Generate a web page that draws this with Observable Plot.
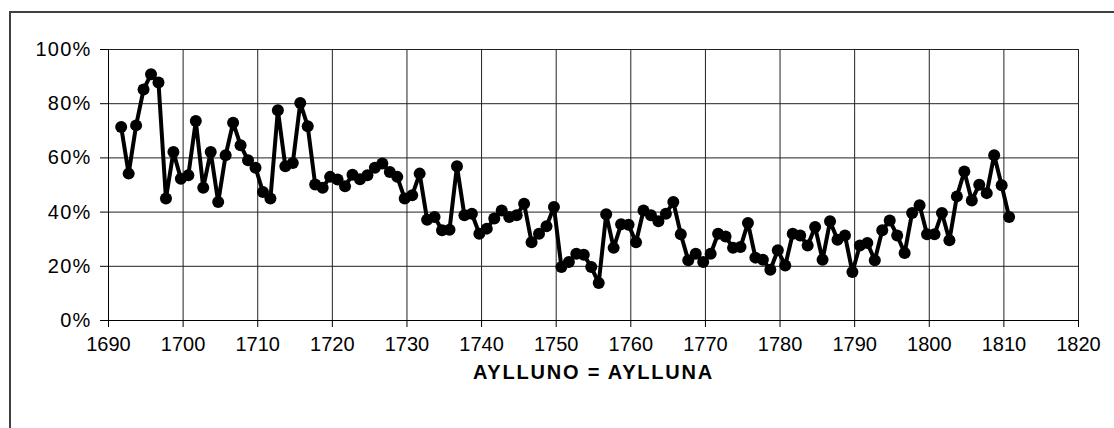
<!DOCTYPE html>
<html>
<head>
<meta charset="utf-8">
<script src="https://cdn.jsdelivr.net/npm/d3@7"></script>
<script src="https://cdn.jsdelivr.net/npm/@observablehq/plot@0.6"></script>
<style>
  html, body { margin: 0; padding: 0; background: #fff; overflow: hidden; }
  #wrap { position: relative; width: 1114px; height: 428px; overflow: hidden; }
  #frame { position: absolute; left: 9px; top: 11px; width: 1200px; height: 500px; border: 2px solid #404040; box-sizing: border-box; }
  #chart { position: absolute; left: 0; top: 0; }
  .yax text { letter-spacing: 1.2px; }
  .ttl text { letter-spacing: 1.8px; }
</style>
</head>
<body>
<div id="wrap"><div id="frame"></div><div id="chart"></div></div>
<script>
// Plotting positions (years)
const years = [
  1691.7, 1692.7, 1693.7, 1694.7, 1695.7, 1696.7, 1697.7, 1698.7, 1699.7, 1700.7,
  1701.7, 1702.7, 1703.7, 1704.7, 1705.7, 1706.7, 1707.7, 1708.7, 1709.7, 1710.7,
  1711.7, 1712.7, 1713.7, 1714.7, 1715.7, 1716.7, 1717.7, 1718.7, 1719.7, 1720.7,
  1721.7, 1722.7, 1723.7, 1724.7, 1725.7, 1726.7, 1727.7, 1728.7, 1729.7, 1730.7,
  1731.7, 1732.7, 1733.7, 1734.7, 1735.7, 1736.7, 1737.7, 1738.7, 1739.7, 1740.7,
  1741.7, 1742.7, 1743.7, 1744.7, 1745.7, 1746.7, 1747.7, 1748.7, 1749.7, 1750.7,
  1751.7, 1752.7, 1753.7, 1754.7, 1755.7, 1756.7, 1757.7, 1758.7, 1759.7, 1760.7,
  1761.7, 1762.7, 1763.7, 1764.7, 1765.7, 1766.7, 1767.7, 1768.7, 1769.7, 1770.7,
  1771.7, 1772.7, 1773.7, 1774.7, 1775.7, 1776.7, 1777.7, 1778.7, 1779.7, 1780.7,
  1781.7, 1782.7, 1783.7, 1784.7, 1785.7, 1786.7, 1787.7, 1788.7, 1789.7, 1790.7,
  1791.7, 1792.7, 1793.7, 1794.7, 1795.7, 1796.7, 1797.7, 1798.7, 1799.7, 1800.7,
  1801.7, 1802.7, 1803.7, 1804.7, 1805.7, 1806.7, 1807.7, 1808.7, 1809.7, 1810.7
];
// Share (%) "AYLLUNO = AYLLUNA"
const shares = [
  71.4, 54.2, 72.0, 85.2, 90.9, 87.8, 45.0, 62.2, 52.3, 53.6,
  73.6, 49.0, 62.2, 43.7, 61.0, 73.0, 64.7, 59.1, 56.4, 47.4,
  45.0, 77.6, 56.9, 58.1, 80.3, 71.7, 50.2, 49.0, 53.0, 52.0,
  49.5, 53.8, 52.1, 53.6, 56.4, 57.9, 54.8, 53.0, 45.0, 46.2,
  54.2, 37.2, 38.2, 33.3, 33.5, 56.9, 38.8, 39.4, 32.0, 33.9,
  37.6, 40.6, 38.2, 38.8, 43.1, 28.9, 32.0, 34.8, 41.9, 19.7,
  21.6, 24.6, 24.3, 19.7, 13.8, 39.2, 26.8, 35.5, 35.3, 28.9,
  40.6, 38.8, 36.6, 39.4, 43.7, 31.8, 22.2, 24.6, 21.6, 24.6,
  32.0, 31.0, 26.8, 27.1, 36.0, 23.2, 22.4, 18.7, 25.9, 20.3,
  32.0, 31.4, 27.7, 34.5, 22.4, 36.6, 29.8, 31.4, 17.9, 27.7,
  28.6, 22.2, 33.3, 36.9, 31.4, 24.9, 39.7, 42.5, 31.8, 31.8,
  39.7, 29.6, 45.8, 55.0, 44.3, 50.1, 47.0, 61.0, 49.9, 38.2
];
const xTicks = [1690, 1700, 1710, 1720, 1730, 1740, 1750, 1760, 1770, 1780, 1790, 1800, 1810, 1820];
const yTicks = [0, 20, 40, 60, 80, 100];
const title = "AYLLUNO = AYLLUNA";

const data = years.map((y, i) => ({year: y, share: shares[i]}));

const chart = Plot.plot({
  width: 1114,
  height: 428,
  marginLeft: 108,
  marginRight: 36,
  marginTop: 49,
  marginBottom: 108,
  style: {fontFamily: "'Liberation Sans', Arial, sans-serif", fontSize: "20px", color: "#000", background: "transparent"},
  x: {domain: [1690, 1820]},
  y: {domain: [0, 100]},
  marks: [
    Plot.ruleX(xTicks.slice(1), {stroke: "#222", strokeWidth: 1}),
    Plot.ruleY(yTicks.slice(1), {stroke: "#222", strokeWidth: 1}),
    Plot.ruleX([1690], {stroke: "#000", strokeWidth: 1}),
    Plot.ruleY([0], {stroke: "#000", strokeWidth: 1}),
    Plot.axisX({ticks: xTicks, tickFormat: "d", tickSize: 7, tickPadding: 9, label: null, stroke: "#000"}),
    Plot.axisY({ticks: yTicks, tickFormat: d => d + "%", tickSize: 8, tickPadding: 9, label: null, stroke: "#000", className: "yax"}),
    Plot.line(data, {x: "year", y: "share", stroke: "#000", strokeWidth: 4, strokeLinejoin: "round"}),
    Plot.dot(data, {x: "year", y: "share", r: 6, fill: "#000", stroke: "none"}),
    Plot.text([title], {text: d => d, frameAnchor: "bottom", dy: 58, fontWeight: "bold", fontSize: 20, className: "ttl"})
  ]
});
document.getElementById("chart").appendChild(chart);
</script>
</body>
</html>
